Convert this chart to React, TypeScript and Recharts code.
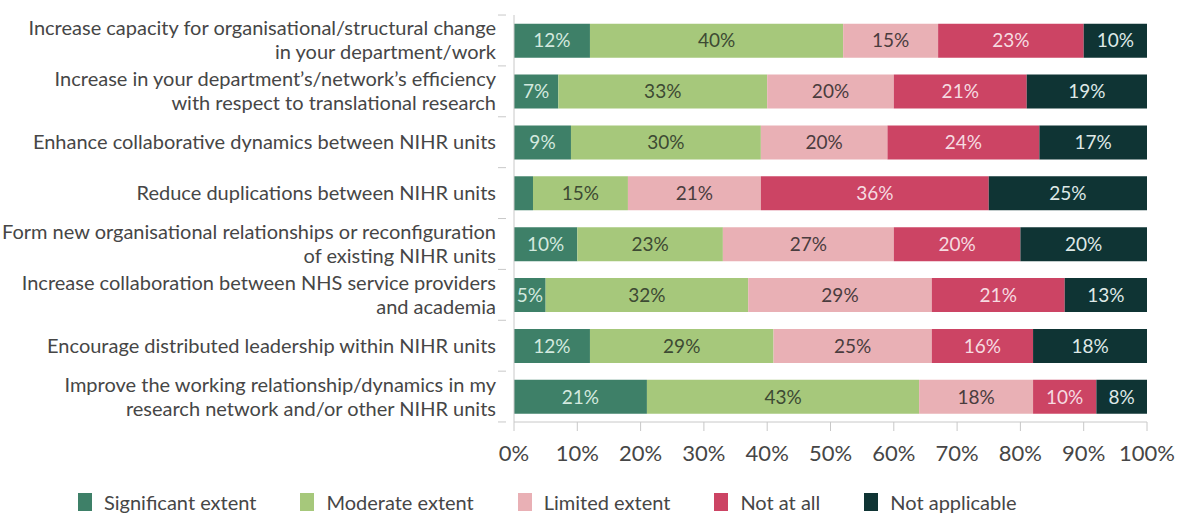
import React from "react";
import {
  BarChart,
  Bar,
  XAxis,
  YAxis,
  Legend,
  LabelList,
} from "recharts";

const categories = [
  "Increase capacity for organisational/structural change|in your department/work",
  "Increase in your department’s/network’s efficiency|with respect to translational research",
  "Enhance collaborative dynamics between NIHR units",
  "Reduce duplications between NIHR units",
  "Form new organisational relationships or reconfiguration|of existing NIHR units",
  "Increase collaboration between NHS service providers|and academia",
  "Encourage distributed leadership within NIHR units",
  "Improve the working relationship/dynamics in my|research network and/or other NIHR units",
];

const significant = [12, 7, 9, 3, 10, 5, 12, 21];
const moderate = [40, 33, 30, 15, 23, 32, 29, 43];
const limited = [15, 20, 20, 21, 27, 29, 25, 18];
const notAtAll = [23, 21, 24, 36, 20, 21, 16, 10];
const notApplicable = [10, 19, 17, 25, 20, 13, 18, 8];

const xTicks = [0, 10, 20, 30, 40, 50, 60, 70, 80, 90, 100];

const series = [
  { key: "significant", name: "Significant extent", color: "#3e8068", text: "#d3e9df" },
  { key: "moderate", name: "Moderate extent", color: "#a6c87b", text: "#3d4a33" },
  { key: "limited", name: "Limited extent", color: "#e9b0b5", text: "#4a3c3e" },
  { key: "notAtAll", name: "Not at all", color: "#cc4464", text: "#f6dbe1" },
  { key: "notApplicable", name: "Not applicable", color: "#0f3434", text: "#dfe9e7" },
];

const data = categories.map((name, i) => ({
  name,
  significant: significant[i],
  moderate: moderate[i],
  limited: limited[i],
  notAtAll: notAtAll[i],
  notApplicable: notApplicable[i],
}));

const FONT = "Lato, 'Open Sans', sans-serif";
const TEXT = "#464646";

const CategoryTick = ({ x, y, payload }: any) => {
  const lines = String(payload.value).split("|");
  const lh = 24;
  const start = -((lines.length - 1) * lh) / 2;
  const half = 25.4;
  const last = payload.index === categories.length - 1;
  return (
    <g>
      <line x1={x - 8} x2={x} y1={y - half} y2={y - half} stroke="#c8c8c8" />
      {last && (
        <line x1={x - 8} x2={x} y1={y + half} y2={y + half} stroke="#c8c8c8" />
      )}
      <text
        x={x - 10}
        y={y}
        textAnchor="end"
        fill={TEXT}
        fontSize={20}
        fontFamily={FONT}
      >
        {lines.map((l, i) => (
          <tspan key={i} x={x - 10} dy={i === 0 ? start + 7 : lh}>
            {l}
          </tspan>
        ))}
      </text>
    </g>
  );
};

const LegendContent = () => (
  <div
    style={{
      display: "flex",
      paddingLeft: 78,
      paddingTop: 16,
      gap: 44,
      fontFamily: FONT,
      fontSize: 20,
      color: TEXT,
    }}
  >
    {series.map((s) => (
      <div key={s.key} style={{ display: "flex", alignItems: "center" }}>
        <span
          style={{
            display: "inline-block",
            width: 14,
            height: 18,
            background: s.color,
            marginRight: 12,
          }}
        />
        {s.name}
      </div>
    ))}
  </div>
);

export default function App() {
  return (
    <div style={{ position: "absolute", left: 0, top: 0, background: "#fff" }}>
      <BarChart
        width={1179}
        height={514}
        data={data}
        layout="vertical"
        margin={{ top: 15, right: 32, left: 0, bottom: 0 }}
        barCategoryGap="17%"
      >
        <XAxis
          type="number"
          domain={[0, 100]}
          ticks={xTicks}
          tickFormatter={(v) => `${v}%`}
          axisLine={{ stroke: "#c8c8c8" }}
          tickLine={{ stroke: "#c8c8c8" }}
          tickSize={9}
          tick={{ fill: TEXT, fontSize: 22, fontFamily: FONT, dy: 12 }}
          height={52}
          interval={0}
        />
        <YAxis
          type="category"
          dataKey="name"
          width={514}
          axisLine={{ stroke: "#c8c8c8" }}
          tickLine={false}
          tick={<CategoryTick />}
          interval={0}
        />
        <Legend
          verticalAlign="bottom"
          align="left"
          height={40}
          content={<LegendContent />}
        />
        {series.map((s) => (
          <Bar
            key={s.key}
            dataKey={s.key}
            name={s.name}
            stackId="a"
            fill={s.color}
            isAnimationActive={false}
          >
            <LabelList
              dataKey={s.key}
              position="center"
              formatter={(v: any) => (v >= 4 ? `${v}%` : "")}
              fill={s.text}
              fontSize={19}
              fontFamily={FONT}
            />
          </Bar>
        ))}
      </BarChart>
    </div>
  );
}
